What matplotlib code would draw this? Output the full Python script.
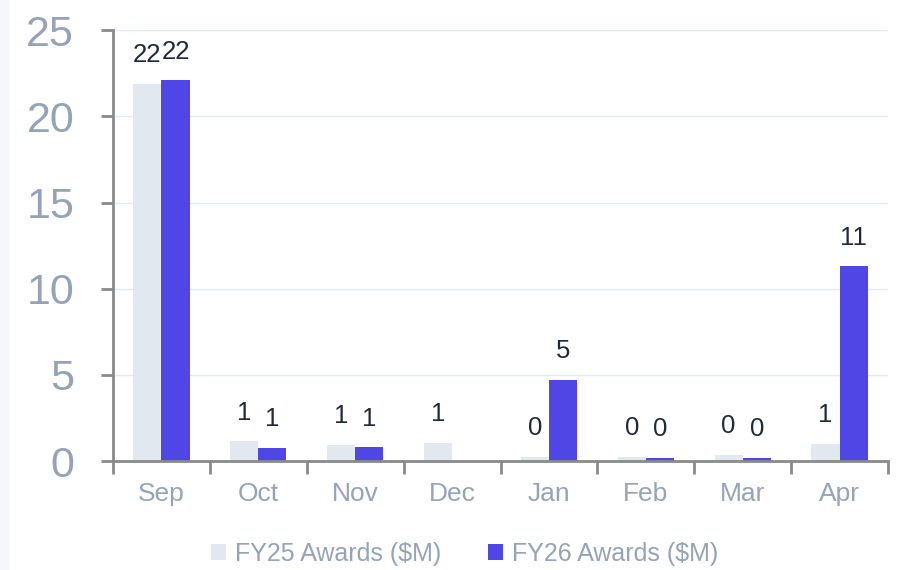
import matplotlib.pyplot as plt
import numpy as np
from matplotlib.patches import Rectangle

plt.rcParams['font.family'] = ['Liberation Sans', 'DejaVu Sans']

months = ["Sep", "Oct", "Nov", "Dec", "Jan", "Feb", "Mar", "Apr"]
fy25 = [21.9, 1.15, 0.93, 1.04, 0.25, 0.25, 0.35, 1.0]
fy26 = [22.1, 0.75, 0.8, np.nan, 4.7, 0.18, 0.18, 11.3]
series_names = ["FY25 Awards ($M)", "FY26 Awards ($M)"]
colors = ["#e2e8f0", "#4f46e5"]

tick_color = "#94a3b8"
label_color = "#1e293b"
spine_color = "#8a8a8a"

fig = plt.figure(figsize=(9.02, 5.70), dpi=100)
fig.patches.append(Rectangle((0, 0), 0.009, 1, transform=fig.transFigure,
                             color="#f5f7fa", zorder=0))
ax = fig.add_axes([0.1253, 0.1912, 0.8592, 0.7558])

x = np.arange(len(months))
w = 0.29
for i, (vals, c, name) in enumerate(zip([fy25, fy26], colors, series_names)):
    pos = x + (i - 0.5) * w
    ax.bar(pos, vals, width=w, color=c, label=name, zorder=2)
    for px, v in zip(pos, vals):
        if np.isnan(v):
            continue
        ax.annotate(f"{v:.0f}", (px, v), xytext=(0, 12), textcoords="offset points",
                    ha="center", va="bottom", fontsize=18.5, color=label_color)

ax.set_xlim(-0.5, len(months) - 0.5)
ax.set_ylim(0, 25)
ax.set_yticks([0, 5, 10, 15, 20, 25])
ax.yaxis.grid(True, color="#e5e9f0", linewidth=1, zorder=0)
ax.set_axisbelow(True)

# category boundaries get tick marks, labels sit in the middle
ax.set_xticks(np.arange(len(months) + 1) - 0.5)
ax.set_xticklabels([])
ax.set_xticks(x, minor=True)
ax.set_xticklabels(months, minor=True)
ax.tick_params(axis="x", which="minor", length=0, pad=15, labelsize=19, labelcolor=tick_color)
ax.tick_params(axis="x", which="major", length=9, width=2, color=spine_color, direction="out")
ax.tick_params(axis="y", length=9, width=2, color=spine_color, pad=19,
               labelsize=31, labelcolor=tick_color)

for s in ["top", "right"]:
    ax.spines[s].set_visible(False)
for s in ["left", "bottom"]:
    ax.spines[s].set_color(spine_color)
    ax.spines[s].set_linewidth(2)

fig.legend(loc="center", bbox_to_anchor=(0.515, 0.028), ncol=2, frameon=False,
           fontsize=18, labelcolor=tick_color, handlelength=0.6, handleheight=0.6,
           handletextpad=0.35, columnspacing=1.9)

fig.savefig("out.png", dpi=100)
